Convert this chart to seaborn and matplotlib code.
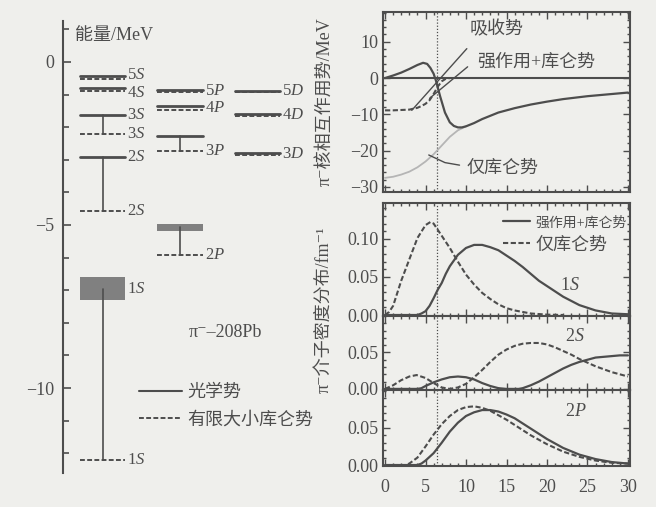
import numpy as np
import pandas as pd
import seaborn as sns
import matplotlib.pyplot as plt
from matplotlib.ticker import MultipleLocator

# ---- 左图: 能级 (MeV) ----
s_labels = ['5S', '4S', '3S', '2S', '1S']
s_opt = [-0.42, -0.80, -1.62, -2.93, -6.95]        # 光学势
s_opt_width = [0.06, 0.06, 0.06, 0.06, 0.68]
s_coul = [-0.52, -0.88, -2.20, -4.57, -12.20]      # 有限大小库仑势

p_labels = ['5P', '4P', '3P', '2P']
p_opt = [-0.86, -1.35, -2.28, -5.07]
p_opt_width = [0.06, 0.06, 0.06, 0.22]
p_coul = [-0.92, -1.47, -2.74, -5.93]

d_labels = ['5D', '4D', '3D']
d_opt = [-0.88, -1.60, -2.80]
d_opt_width = [0.06, 0.06, 0.06]
d_coul = [-0.93, -1.65, -2.85]

# ---- 右上: 相互作用势 (MeV) ----
r_strong = [0, 1, 2, 3, 4, 4.7, 5.2, 5.6, 6, 6.3, 6.8, 7.4, 8, 8.5, 9, 9.5, 10, 11, 12, 14,
            16, 18, 20, 22, 25, 28, 30]
v_strong = [0, 0.7, 1.5, 2.5, 3.6, 4.2, 3.9, 2.8, 1.2, -0.8, -5.0, -9.5, -12.2, -13.2, -13.6,
            -13.6, -13.3, -12.4, -11.3, -9.5, -8.3, -7.3, -6.5, -5.8, -5.0, -4.4, -4.0]
r_absorb = [0, 1, 2, 3, 4, 4.5, 5, 5.5, 6, 6.5, 7, 7.5, 8]
v_absorb = [-8.9, -8.9, -8.8, -8.7, -8.2, -7.7, -7.1, -6.1, -4.4, -2.4, -0.9, -0.2, 0]
r_coul = [0, 1, 2, 3, 4, 5, 6, 7, 8, 9, 10]
v_coul = [-27.5, -27.2, -26.6, -25.8, -24.6, -23.0, -21.0, -18.6, -16.2, -14.4, -13.3]

# ---- 右下: 密度分布 ----
r_1s_c = [0, 0.5, 1, 2, 3, 4, 5, 5.6, 6, 7, 8, 9, 10, 11, 12, 13, 14, 15, 16, 18, 20, 22]
rho_1s_c = [0, 0.004, 0.012, 0.045, 0.073, 0.101, 0.118, 0.122, 0.120, 0.104, 0.088, 0.070,
            0.053, 0.040, 0.029, 0.021, 0.014, 0.009, 0.006, 0.002, 0.0005, 0]
r_1s_s = [0, 4, 4.5, 5, 5.5, 6, 6.5, 7, 7.5, 8, 9, 10, 11, 12, 13, 14, 15, 16, 17, 18, 19,
          20, 21, 22, 24, 26, 28, 30]
rho_1s_s = [0, 0, 0.002, 0.005, 0.012, 0.022, 0.033, 0.042, 0.054, 0.064, 0.079, 0.088, 0.092,
            0.092, 0.089, 0.085, 0.078, 0.071, 0.063, 0.054, 0.045, 0.038, 0.031, 0.024, 0.013,
            0.006, 0.002, 0.001]

r_2s_c = [0, 1, 2, 3, 3.9, 5, 6, 7, 8, 9, 10, 11, 12, 13, 14, 15, 16, 17, 18, 19, 20, 21, 22,
          23, 24, 25, 26, 27, 28, 29, 30]
rho_2s_c = [0, 0.005, 0.012, 0.017, 0.019, 0.015, 0.008, 0.002, 0.0, 0.002, 0.007, 0.016,
            0.026, 0.037, 0.047, 0.054, 0.059, 0.062, 0.063, 0.063, 0.061, 0.057, 0.052, 0.047,
            0.041, 0.036, 0.031, 0.027, 0.023, 0.020, 0.017]
r_2s_s = [0, 4, 4.5, 5, 6, 7, 8, 9, 10, 11, 12, 13, 14, 15, 16.5, 17, 18, 19, 20, 21, 22, 23,
          24, 25, 26, 27, 28, 29, 30]
rho_2s_s = [0, 0, 0.001, 0.004, 0.009, 0.013, 0.016, 0.017, 0.016, 0.013, 0.008, 0.004, 0.001,
            0, 0, 0.001, 0.005, 0.010, 0.016, 0.022, 0.028, 0.033, 0.037, 0.040, 0.043, 0.044,
            0.045, 0.046, 0.046]

r_2p_c = [0, 2.5, 3, 4, 5, 6, 7, 8, 9, 10, 11, 12, 13, 14, 15, 16, 17, 18, 19, 20, 22, 24, 26,
          28, 30]
rho_2p_c = [0, 0, 0.002, 0.010, 0.025, 0.041, 0.055, 0.066, 0.074, 0.078, 0.079, 0.077, 0.073,
            0.067, 0.061, 0.054, 0.047, 0.040, 0.034, 0.028, 0.018, 0.011, 0.006, 0.003, 0.002]
r_2p_s = [0, 4, 4.5, 5, 6, 7, 8, 9, 10, 11, 12, 13, 14, 15, 16, 17, 18, 19, 20, 22, 24, 26,
          28, 30]
rho_2p_s = [0, 0, 0.002, 0.006, 0.016, 0.030, 0.045, 0.057, 0.066, 0.071, 0.074, 0.074, 0.072,
            0.068, 0.063, 0.056, 0.049, 0.042, 0.035, 0.023, 0.014, 0.008, 0.004, 0.002]

r_nucleus = 6.4

sns.set_theme(style='ticks')
plt.rcParams['font.family'] = ['Liberation Serif', 'Noto Sans CJK SC', 'DejaVu Sans']
plt.rcParams['mathtext.fontset'] = 'custom'
plt.rcParams['mathtext.rm'] = 'Liberation Serif'
plt.rcParams['mathtext.it'] = 'Liberation Serif:italic'
plt.rcParams['axes.unicode_minus'] = True

ink = '#4d4d4d'
bg = '#efefec'
dash = (0, (2.5, 1.2))
# 标签微调 (避免 5S/4S 重叠)
label_shift = {'5S': 0.08, '4S': -0.12}

fig = plt.figure(figsize=(6.56, 5.07), dpi=100, facecolor=bg)
W, H = 656.0, 507.0

# ================= 左图 =================
axl = fig.add_axes([63 / W, 1 - 472.8 / H, 237 / W, 451.6 / H])
axl.set_facecolor(bg)
axl.set_xlim(0, 237)
axl.set_ylim(-12.6, 1.25)
for side in ['top', 'right', 'bottom']:
    axl.spines[side].set_visible(False)
axl.spines['left'].set_color(ink)
axl.spines['left'].set_linewidth(1.5)
axl.set_xticks([])
axl.yaxis.set_major_locator(MultipleLocator(5))
axl.yaxis.set_minor_locator(MultipleLocator(1))
axl.tick_params(axis='y', which='both', direction='in', color=ink, labelcolor=ink,
                labelsize=13, width=1.2, pad=6)
axl.tick_params(axis='y', which='major', length=6)
axl.tick_params(axis='y', which='minor', length=4)


def draw_column(ax, labels, e_opt, w_opt, e_coul, x0, x1, label_opt):
    xc = (x0 + x1) / 2
    for lab, eo, wo, ec in zip(labels, e_opt, w_opt, e_coul):
        txt = lab[0] + r'$\mathit{' + lab[1] + '}$'
        if wo > 0.15:
            ax.fill_between([x0, x1], eo - wo / 2, eo + wo / 2, color='#808080', lw=0)
        else:
            ax.plot([x0, x1], [eo, eo], color=ink, lw=2)
        ax.plot([x0, x1], [ec, ec], color=ink, lw=1.4, ls=dash)
        if abs(eo - ec) > 0.3:
            ax.plot([xc, xc], [eo, ec], color=ink, lw=1.2)
            if label_opt:
                ax.text(x1 + 2, eo, txt, fontsize=12, color=ink, va='center')
            ax.text(x1 + 2, ec, txt, fontsize=12, color=ink, va='center')
        else:
            y = (eo + ec) / 2 + label_shift.get(lab, 0)
            ax.text(x1 + 2, y, txt, fontsize=12, color=ink, va='center')


draw_column(axl, s_labels, s_opt, s_opt_width, s_coul, 17, 62, True)
draw_column(axl, p_labels, p_opt, p_opt_width, p_coul, 94, 140, False)
draw_column(axl, d_labels, d_opt, d_opt_width, d_coul, 172, 217, False)

axl.text(12, 0.82, '能量/MeV', fontsize=13, color=ink, va='center')
axl.text(162, -8.29, 'π⁻–208Pb', fontsize=13, color=ink, va='center', ha='center')

leg_h = [plt.Line2D([], [], color=ink, lw=1.5),
         plt.Line2D([], [], color=ink, lw=1.4, ls=dash)]
lg = axl.legend(leg_h, ['光学势', '有限大小库仑势'], loc='upper left',
                bbox_to_anchor=(0.32, 0.197), frameon=False, fontsize=13,
                handlelength=2.4, handletextpad=0.3, labelspacing=0.6,
                borderpad=0, borderaxespad=0)
for t in lg.get_texts():
    t.set_color(ink)

# ================= 右图 =================
x_left, x_w = 383 / W, 247 / W
axv = fig.add_axes([x_left, 1 - 192 / H, x_w, 180 / H])
ax1 = fig.add_axes([x_left, 1 - 316 / H, x_w, 113 / H])
ax2 = fig.add_axes([x_left, 1 - 390 / H, x_w, 74 / H])
ax3 = fig.add_axes([x_left, 1 - 466 / H, x_w, 76 / H])

for ax in [axv, ax1, ax2, ax3]:
    ax.set_facecolor(bg)
    ax.set_xlim(-0.25, 30.25)
    for sp in ax.spines.values():
        sp.set_color(ink)
        sp.set_linewidth(1.5)
    ax.xaxis.set_major_locator(MultipleLocator(5))
    ax.xaxis.set_minor_locator(MultipleLocator(1))
    ax.tick_params(which='both', direction='in', top=True, right=True, color=ink,
                   labelcolor=ink, labelsize=13, width=1.0)
    ax.tick_params(which='major', length=5)
    ax.tick_params(which='minor', length=2.5)
    ax.tick_params(axis='x', pad=9)
    ax.axvline(r_nucleus, color=ink, lw=0.9, ls=(0, (1, 1.5)))
    if ax is not ax3:
        ax.tick_params(labelbottom=False)

# 势
sns.lineplot(x=r_coul, y=v_coul, ax=axv, color='#b5b5b5', lw=1.3)
sns.lineplot(x=r_absorb, y=v_absorb, ax=axv, color=ink, lw=1.5, linestyle=dash)
sns.lineplot(x=r_strong, y=v_strong, ax=axv, color=ink, lw=1.6)
axv.axhline(0, color=ink, lw=1.5)
axv.set_ylim(-31.4, 18.2)
axv.yaxis.set_major_locator(MultipleLocator(10))
axv.yaxis.set_minor_locator(MultipleLocator(2))
axv.plot([3.3, 10.1], [-8.9, 8.1], color=ink, lw=1)
axv.plot([5.5, 10.2], [-5.6, 3.1], color=ink, lw=1)
axv.plot([5.4, 7.4, 9.2], [-21.2, -23.3, -24.0], color=ink, lw=1)
axv.text(10.4, 13.3, '吸收势', fontsize=13, color=ink, va='center')
axv.text(11.4, 4.4, '强作用+库仑势', fontsize=13, color=ink, va='center')
axv.text(10.1, -24.8, '仅库仑势', fontsize=13, color=ink, va='center')

# 1S
sns.lineplot(x=r_1s_s, y=rho_1s_s, ax=ax1, color=ink, lw=1.6, label='强作用+库仑势')
sns.lineplot(x=r_1s_c, y=rho_1s_c, ax=ax1, color=ink, lw=1.5, linestyle=dash, label='仅库仑势')
ax1.set_ylim(-0.0013, 0.147)
ax1.set_yticks([0, 0.05, 0.10])
ax1.set_yticklabels(['0.00', '0.05', '0.10'])
ax1.yaxis.set_minor_locator(MultipleLocator(0.01))
lg1 = ax1.legend(loc='upper right', bbox_to_anchor=(1.0, 0.93), frameon=False, fontsize=13,
                 handlelength=1.5, handletextpad=0.3, labelspacing=0.35,
                 borderpad=0, borderaxespad=0.2)
lg1.get_texts()[0].set_fontsize(10)
for t in lg1.get_texts():
    t.set_color(ink)
ax1.text(21.6, 0.039, r'1$\mathit{S}$', fontsize=13, color=ink, va='center')

# 2S
sns.lineplot(x=r_2s_s, y=rho_2s_s, ax=ax2, color=ink, lw=1.6)
sns.lineplot(x=r_2s_c, y=rho_2s_c, ax=ax2, color=ink, lw=1.5, linestyle=dash)
ax2.set_ylim(-0.0015, 0.1)
ax2.set_yticks([0, 0.05])
ax2.set_yticklabels(['0.00', '0.05'])
ax2.yaxis.set_minor_locator(MultipleLocator(0.01))
ax2.text(22.2, 0.072, r'2$\mathit{S}$', fontsize=13, color=ink, va='center')

# 2P
sns.lineplot(x=r_2p_s, y=rho_2p_s, ax=ax3, color=ink, lw=1.6)
sns.lineplot(x=r_2p_c, y=rho_2p_c, ax=ax3, color=ink, lw=1.5, linestyle=dash)
ax3.set_ylim(-0.0013, 0.101)
ax3.set_yticks([0, 0.05])
ax3.set_yticklabels(['0.00', '0.05'])
ax3.yaxis.set_minor_locator(MultipleLocator(0.01))
ax3.text(22.2, 0.072, r'2$\mathit{P}$', fontsize=13, color=ink, va='center')

for ax in [axv, ax1, ax2, ax3]:
    ax.set_xlabel('')
    ax.set_ylabel('')

fig.text(325 / W, 1 - 102 / H, 'π⁻核相互作用势/MeV', rotation=90, ha='center', va='center',
         fontsize=13, color=ink)
fig.text(325 / W, 1 - 310 / H, 'π⁻介子密度分布/fm⁻¹', rotation=90, ha='center', va='center',
         fontsize=13, color=ink)

fig.savefig('out.png', dpi=100, facecolor=bg)
